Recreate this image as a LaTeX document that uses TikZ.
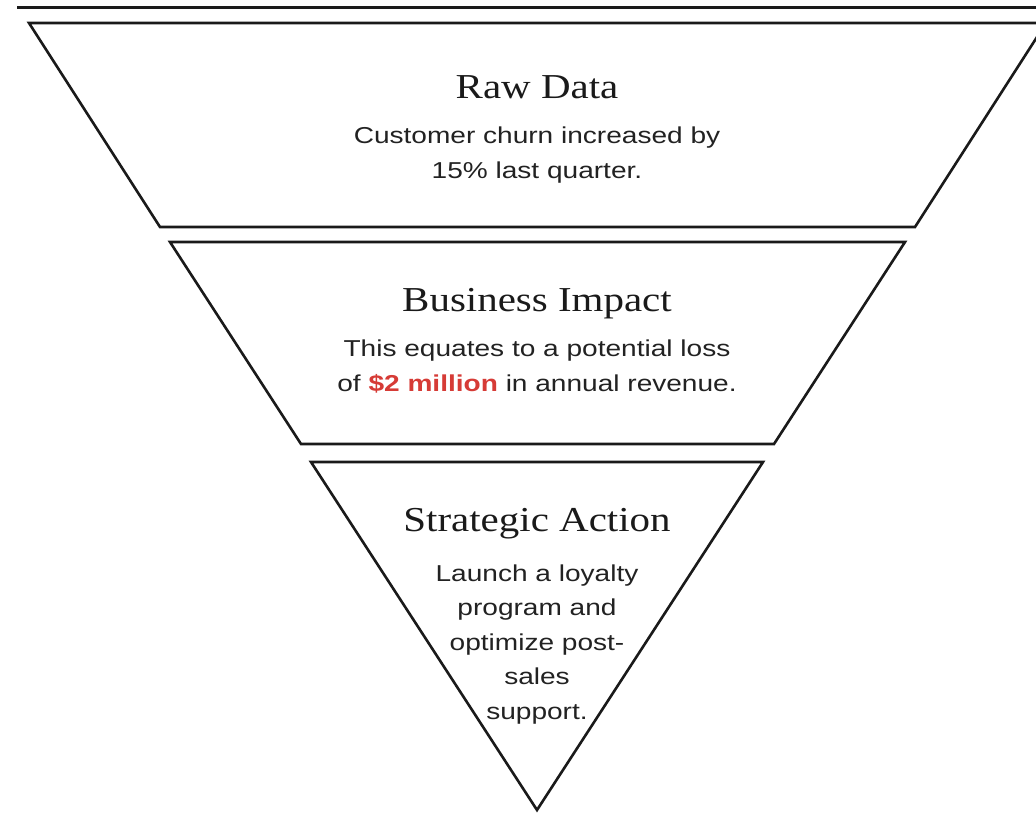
\documentclass[tikz,border=0pt]{standalone}
\usepackage{fontspec}
\newfontfamily\titlefont[FakeStretch=1.17]{Liberation Serif}
\newfontfamily\bodyfont[FakeStretch=1.22]{Liberation Sans}
\definecolor{ink}{HTML}{1A1A1A}
\definecolor{bodyink}{HTML}{222222}
\definecolor{accent}{HTML}{D63B36}
\tikzset{
  stage/.style={draw=ink, line width=2.6pt, line join=miter},
  rule/.style={draw=ink, line width=2.6pt},
  ttl/.style={font=\titlefont\fontsize{35}{38}\selectfont, text=ink, anchor=base, inner sep=0pt},
  bodytxt/.style={font=\bodyfont\fontsize{23}{34.5}\selectfont, text=bodyink, align=center, anchor=base, inner sep=0pt}
}
\begin{document}
\begin{tikzpicture}[x=1pt,y=-1pt]
  \useasboundingbox (0,0) rectangle (1036,812);
  \clip (0,0) rectangle (1036,812);
  \fill[white] (0,0) rectangle (1036,812);
  % top rule
  \coordinate (ruleL) at (17,7.5);
  \coordinate (ruleR) at (1040,7.5);
  \draw[rule] (ruleL) -- (ruleR);
  % stage shapes
  \draw[stage] (29,23) -- (1046,23) -- (915,227) -- (160,227) -- cycle;
  \draw[stage] (170,242) -- (905,242) -- (774,444) -- (301,444) -- cycle;
  \draw[stage] (311,462) -- (763,462) -- (537,810) -- cycle;
  % texts (body nodes anchored at the baseline of their last line)
  \node[ttl] (t1) at (537,98) {Raw Data};
  \node[bodytxt] (b1) at (537,178) {Customer churn increased by\\15\% last quarter.};
  \node[ttl] (t2) at (537,311) {Business Impact};
  \node[bodytxt] (b2) at (537,391) {This equates to a potential loss\\of {\bfseries\color{accent}\$2 million} in annual revenue.};
  \node[ttl] (t3) at (537,531) {Strategic Action};
  \node[bodytxt] (b3) at (537,719) {Launch a loyalty\\program and\\optimize post-\\sales\\support.};
\end{tikzpicture}
\end{document}
